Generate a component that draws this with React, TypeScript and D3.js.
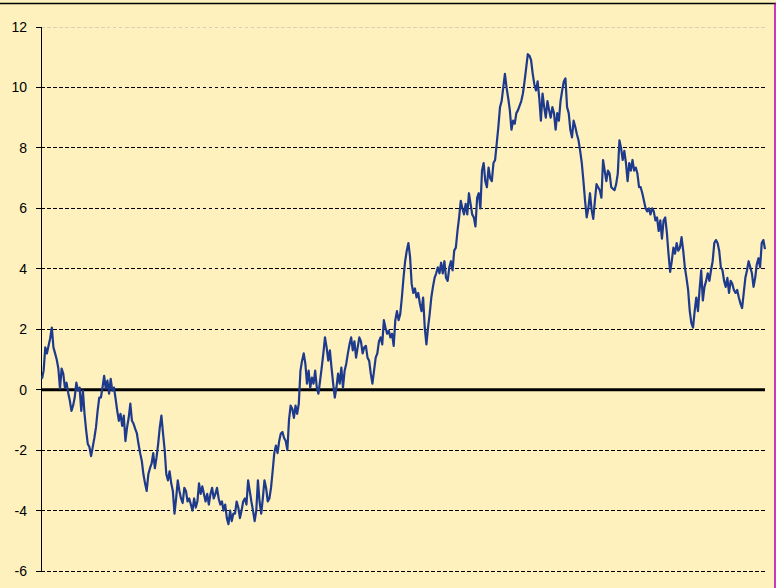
import React from "react";
import * as d3 from "d3";

const yTicks = [-6, -4, -2, 0, 2, 4, 6, 8, 10, 12];

const segA = [0.36, 0.63, 1.4, 1.2, 1.45, 1.7, 2.05, 1.4, 1.2, 1.0, 0.7, 0.03, 0.7, 0.53, 0.07, 0.23, -0.1, -0.36, -0.7, -0.53, -0.26, 0.23, -0.03, 0.07, -0.7, -0.03, -0.8, -1.35, -1.8, -1.9, -2.2, -1.9, -1.6, -1.25, -0.7, -0.26, -0.26, 0.07, 0.46, 0.03, 0.3, -0.13, 0.36, -0.03, 0.07, -0.3, -0.7, -1.03, -0.8, -1.2, -0.86, -1.7, -1.25, -0.93, -0.46, -1.03, -1.13, -1.3, -1.45, -1.8, -2.1, -2.35, -2.8, -3.1, -3.35, -2.8, -2.6, -2.45, -2.1, -2.6, -2.25, -1.8, -1.25, -0.86];
const segB = [-1.45, -2.0, -2.8, -3.0, -2.7, -3.1, -3.35, -4.1, -3.6, -3.0, -3.35, -3.6, -3.75, -3.25, -3.35, -3.7, -3.6, -3.8, -4.0, -3.6, -3.9, -3.7, -3.1, -3.45, -3.2, -3.45, -3.7, -3.45, -3.8, -3.45, -3.25, -3.6, -3.45, -3.25, -3.6, -3.8, -3.7, -4.0, -3.8, -4.25, -4.45, -4.0, -4.35, -4.1, -4.1, -3.7, -3.9, -4.25, -4.0, -3.7, -3.6, -3.8, -3.0, -3.35, -3.7, -4.0, -4.35, -4.0, -3.0, -3.7, -4.1, -3.6, -3.0, -3.25, -3.7, -3.6, -3.25, -2.7, -2.1, -1.85, -2.1, -1.7, -1.45, -1.4, -1.6, -1.7, -2.0];
const segC = [-1.0, -0.53, -0.63, -0.93, -0.53, -0.8, -0.46, 0.63, 0.96, 1.2, 0.86, 0.2, 0.63, 0.07, 0.4, 0.2, 0.63, 0.07, -0.13, 0.3, 0.73, 1.2, 1.73, 1.4, 0.96, 1.3, 0.73, 0.2, -0.26, 0.07, 0.53, 0.2, 0.73, 0.07, 0.63, 0.86, 1.2, 1.5, 1.73, 1.3, 1.6, 1.06, 1.4, 1.73, 1.6, 1.2, 1.4, 1.45, 1.06, 0.96, 0.53, 0.2, 0.63, 1.06, 1.2, 1.6, 1.73, 1.5, 2.3, 2.05, 1.85, 1.95, 1.73, 1.85, 1.45, 2.3, 2.6, 2.3, 2.5, 3.05, 3.7, 4.25, 4.6, 4.85, 4.4, 3.5, 3.2, 3.35, 3.05, 3.2, 2.85, 2.6, 3.05, 2.05, 1.5, 2.05, 2.5, 3.05, 3.4, 3.7];
const segD = [3.85, 4.05, 3.85, 4.2, 3.85, 4.25, 3.7, 3.6, 4.05, 4.25, 3.95, 4.6, 4.7, 5.25, 5.7, 6.25, 6.0, 5.8, 6.15, 5.8, 6.5, 6.15, 5.8, 5.7, 5.4, 6.35, 6.5, 6.0, 7.25, 7.5, 6.9, 6.7, 7.35, 7.0, 6.9, 7.5, 7.6, 8.15, 8.7, 9.35, 9.55, 10.0, 10.45, 10.0, 9.65, 9.25, 8.6, 8.9, 8.8, 9.15, 9.25, 9.4, 9.55, 9.8, 10.2, 10.65, 11.1, 11.05, 10.9, 10.45, 10.1, 9.9, 10.2, 9.65, 8.9, 9.8, 9.35, 9.0, 9.55, 9.25, 9.0, 9.35, 9.15, 8.6, 9.15, 8.9, 9.55, 9.9, 10.2, 10.3];
const segE = [9.35, 9.15, 8.6, 8.35, 8.9, 8.7, 8.45, 8.25, 7.9, 7.5, 6.9, 6.25, 5.7, 6.0, 6.5, 5.95, 5.65, 6.25, 6.8, 6.7, 6.6, 6.35, 7.6, 7.25, 6.9, 7.25, 7.15, 6.7, 6.65, 6.6, 6.8, 7.15, 8.25, 8.0, 7.6, 7.9, 7.5, 6.9, 7.5, 7.25, 7.6, 7.25, 7.35, 7.15, 6.7, 6.7, 6.5, 6.25, 6.0, 5.9, 6.0, 5.8, 6.0, 5.9, 5.6, 5.7, 5.25, 5.6, 5.0, 5.6, 5.7, 5.2, 4.5];
const segF = [3.9, 4.25, 4.7, 4.5, 4.85, 4.6, 4.7, 5.05, 4.6, 4.05, 3.7, 3.3, 2.6, 2.2, 2.05, 2.6, 3.05, 2.6, 3.3, 3.95, 2.95, 3.4, 3.6, 3.85, 3.6, 3.95, 4.25, 4.85, 4.95, 4.85, 4.6, 4.05, 3.95, 3.6, 3.4, 3.7, 3.2, 3.6, 3.5, 3.3, 3.2, 3.3, 3.05, 2.85, 2.7, 3.2, 3.7, 3.95, 4.25, 4.05, 3.85, 3.4, 3.7, 4.15, 4.35, 4.05, 4.85, 4.95, 4.65];

const values: number[] = [...segA, ...segB, ...segC, ...segD, ...segE, ...segF];

const W = 776;
const H = 588;
const axisX = 41;
const plotRight = 765;
const yTop = 27;
const yBottom = 571;

export default function App() {
  const x = d3.scaleLinear().domain([0, values.length - 1]).range([axisX + 1, plotRight]);
  const y = d3.scaleLinear().domain([-6, 12]).range([yBottom, yTop]);
  const line = d3
    .line<number>()
    .x((_, i) => x(i))
    .y((d) => y(d));

  return (
    <div style={{ position: "fixed", left: 0, top: 0, width: W, height: H }}>
      <svg width={W} height={H} style={{ display: "block" }}>
        <rect x={0} y={0} width={W} height={H} fill="#FEF1BE" />
        {yTicks.map((t) => (
          <line
            key={"g" + t}
            x1={axisX}
            x2={plotRight}
            y1={y(t)}
            y2={y(t)}
            stroke={t === 12 ? "#d8d2b0" : "#000"}
            strokeWidth={1}
            strokeDasharray="3.5,2.5"
            shapeRendering="crispEdges"
          />
        ))}
        <line x1={axisX} x2={plotRight} y1={y(0)} y2={y(0)} stroke="#000" strokeWidth={3} />
        <line x1={axisX} x2={axisX} y1={y(12)} y2={y(-6)} stroke="#000" strokeWidth={1} shapeRendering="crispEdges" />
        {yTicks.map((t) => (
          <g key={"t" + t}>
            <line x1={axisX - 5} x2={axisX} y1={y(t)} y2={y(t)} stroke="#000" strokeWidth={1} shapeRendering="crispEdges" />
            <text
              x={27}
              y={y(t)}
              dy="0.36em"
              textAnchor="end"
              fontFamily="Liberation Sans, Arial, sans-serif"
              fontSize={14}
              fill="#000"
            >
              {t}
            </text>
          </g>
        ))}
        <path d={line(values) || ""} fill="none" stroke="#1E3A8C" strokeWidth={2.2} strokeLinejoin="round" />
        <line x1={0} x2={W} y1={3.5} y2={3.5} stroke="#000" strokeWidth={1.5} />
        <line x1={775} x2={775} y1={3} y2={H} stroke="#B000B0" strokeWidth={1.5} />
      </svg>
    </div>
  );
}
